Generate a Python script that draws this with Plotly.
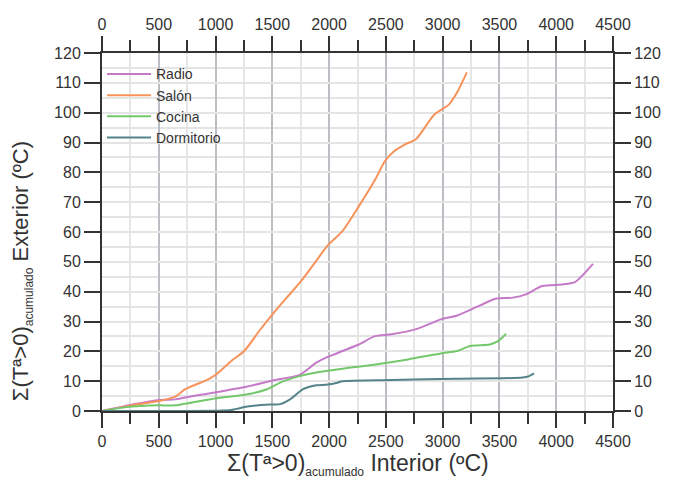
import plotly.graph_objects as go

# Data
radio_x = [0, 250, 502, 646, 800, 993, 1281, 1512, 1742, 1887, 1973, 2060, 2117, 2261, 2406, 2550, 2781, 2983, 3127, 3329, 3473, 3617, 3732, 3877, 4050, 4165, 4252, 4324]
radio_y = [0, 2.0, 3.7, 3.9, 5.0, 6.2, 8.2, 10.3, 12.1, 16.2, 17.9, 19.2, 20.1, 22.3, 25.1, 25.7, 27.6, 30.7, 32.0, 35.4, 37.7, 38.0, 39.1, 41.9, 42.4, 43.2, 46.3, 49.3]

salon_x = [0, 250, 502, 646, 733, 935, 1007, 1136, 1252, 1396, 1512, 1627, 1742, 1880, 1988, 2117, 2261, 2406, 2492, 2570, 2665, 2767, 2925, 3055, 3130, 3213]
salon_y = [0, 1.8, 3.35, 4.8, 7.3, 10.6, 12.3, 16.7, 20.1, 27.4, 32.9, 38.0, 43.0, 50.0, 55.5, 60.3, 68.6, 77.6, 83.8, 87.0, 89.3, 91.2, 99.3, 102.7, 107.0, 113.5]

cocina_x = [0, 214, 502, 646, 993, 1281, 1454, 1598, 1742, 1887, 1973, 2117, 2406, 2694, 2983, 3127, 3242, 3415, 3487, 3559]
cocina_y = [0, 1.3, 1.9, 1.9, 4.2, 5.6, 7.3, 10.0, 11.7, 12.9, 13.4, 14.2, 15.6, 17.3, 19.3, 20.1, 21.8, 22.3, 23.4, 25.9]

dorm_x = [0, 500, 1000, 1136, 1281, 1483, 1569, 1656, 1771, 1887, 1973, 2074, 2117, 2550, 3127, 3704, 3761, 3805]
dorm_y = [0, 0, 0.1, 0.3, 1.5, 2.2, 2.3, 3.9, 7.3, 8.6, 8.8, 9.5, 10.0, 10.4, 10.8, 11.2, 11.7, 12.6]

series_names = ["Radio", "Salón", "Cocina", "Dormitorio"]
series_colors = ["#c57ac8", "#f7935a", "#74c86c", "#54838a"]

x_ticks = list(range(0, 4501, 500))
y_ticks = list(range(0, 121, 10))

fig = go.Figure()
for name, xs, ys, col in zip(series_names,
                             [radio_x, salon_x, cocina_x, dorm_x],
                             [radio_y, salon_y, cocina_y, dorm_y],
                             series_colors):
    fig.add_trace(go.Scatter(x=xs, y=ys, mode="lines", name=name,
                             line=dict(color=col, width=2, shape="spline", smoothing=0.7)))

# invisible trace for top/right axes
fig.add_trace(go.Scatter(x=[0], y=[0], xaxis="x2", yaxis="y2", mode="markers",
                         marker=dict(opacity=0), showlegend=False, hoverinfo="skip"))

tickfont = dict(family="Liberation Sans, Arial", size=16, color="#333333")
axcol = "#333333"

common_x = dict(range=[0, 4500], tickvals=x_ticks, ticks="outside", ticklen=15, tickwidth=2,
                tickcolor=axcol, showline=True, linecolor=axcol, linewidth=2,
                tickfont=tickfont, zeroline=False)
fig.update_layout(
    xaxis=dict(**common_x, showgrid=True, gridcolor="#bdbdc4", gridwidth=2,
               minor=dict(dtick=250, tick0=0, ticks="outside", ticklen=11, tickwidth=2,
                          tickcolor=axcol, showgrid=True, gridcolor="#e6e6e6", gridwidth=2)),
    xaxis2=dict(**common_x, overlaying="x", side="top", showgrid=False,
                minor=dict(dtick=250, tick0=0, ticks="outside", ticklen=11, tickwidth=2,
                           tickcolor=axcol, showgrid=False)),
    yaxis=dict(range=[0, 120], tickvals=y_ticks, ticks="outside", ticklen=16, tickwidth=2,
               tickcolor=axcol, showline=True, linecolor=axcol, linewidth=2, tickfont=tickfont,
               zeroline=False, showgrid=True, gridcolor="#e4e4e4", gridwidth=2,
               minor=dict(dtick=5, tick0=0, ticks="", showgrid=True, gridcolor="#e4e4e4", gridwidth=2)),
    yaxis2=dict(range=[0, 120], tickvals=y_ticks, ticks="outside", ticklen=16, tickwidth=2,
                tickcolor=axcol, showline=True, linecolor=axcol, linewidth=2, tickfont=tickfont,
                zeroline=False, showgrid=False, overlaying="y", side="right"),
    width=673, height=479,
    margin=dict(l=102, r=51, t=53, b=68),
    paper_bgcolor="white", plot_bgcolor="white",
    legend=dict(x=0.0, y=0.985, xanchor="left", yanchor="top", bgcolor="rgba(0,0,0,0)",
                font=dict(family="Liberation Sans, Arial", size=14, color="#333333"),
                itemwidth=44, tracegroupgap=0),
    showlegend=True,
)

fig.add_annotation(text="Σ(Tª>0)<sub><span style='font-size:12px'>acumulado</span></sub> Interior (ºC)",
                   xref="paper", yref="paper", x=0.5, y=-0.15, xanchor="center", yanchor="middle",
                   showarrow=False, font=dict(family="Liberation Sans, Arial", size=23, color="#333333"))
fig.add_annotation(text="Σ(Tª>0)<sub><span style='font-size:12px'>acumulado</span></sub> Exterior (ºC)",
                   xref="paper", yref="paper", x=-0.155, y=0.39, xanchor="center", yanchor="middle",
                   textangle=-90, showarrow=False, font=dict(family="Liberation Sans, Arial", size=22, color="#333333"))

fig.write_html("out.html")
